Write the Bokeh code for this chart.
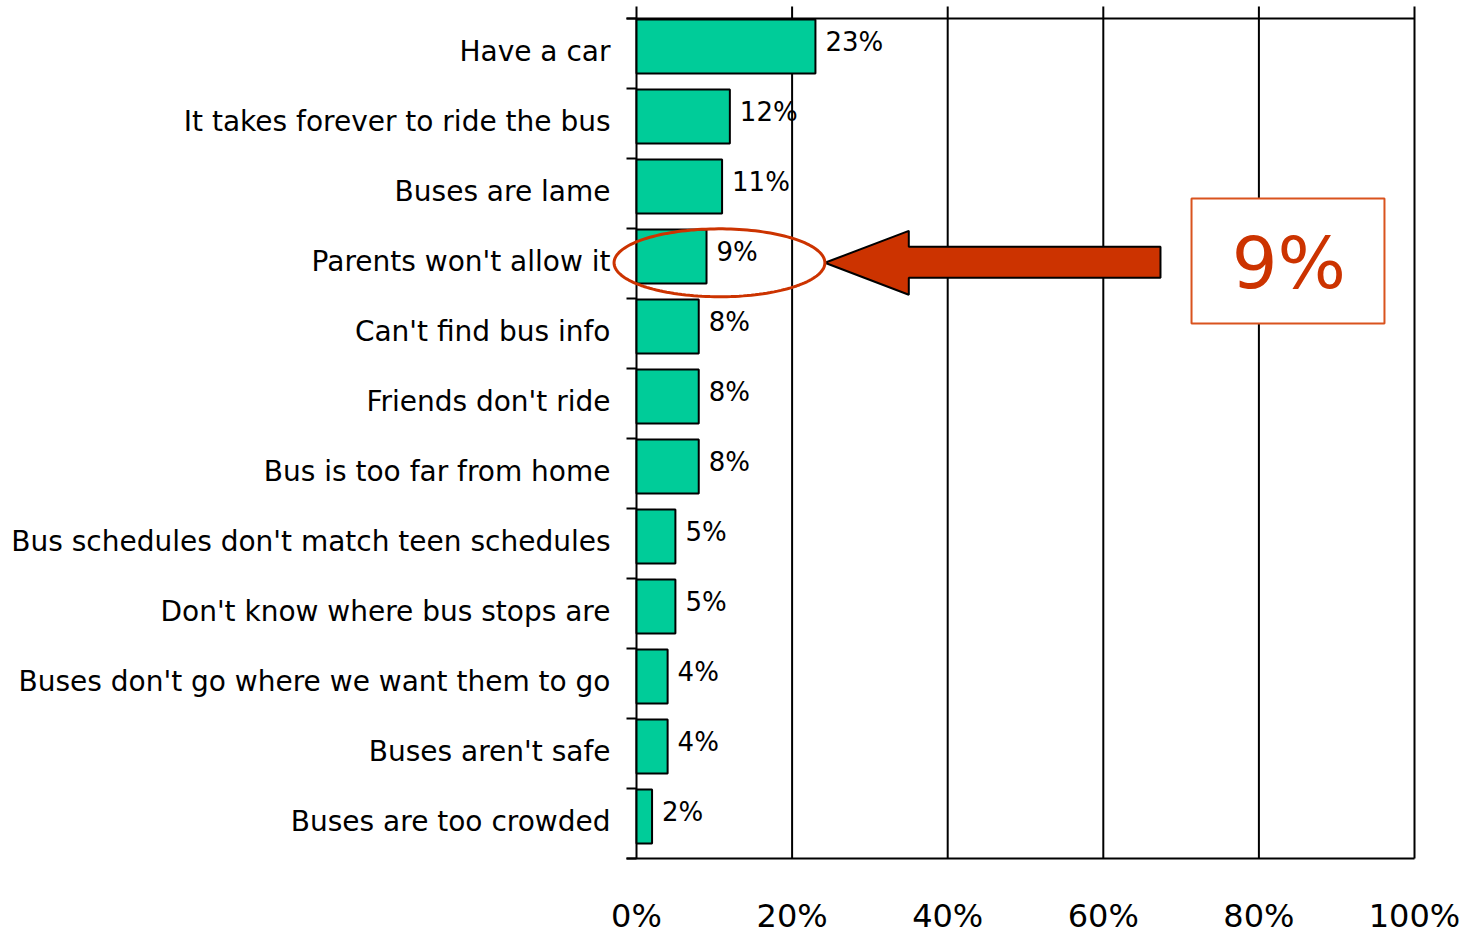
import numpy as np
from bokeh.plotting import figure
from bokeh.models import Range1d, FixedTicker, PolyAnnotation, ColumnDataSource
from bokeh.core.properties import value
from bokeh.embed import file_html
from bokeh.resources import INLINE

categories = [
    "Have a car",
    "It takes forever to ride the bus",
    "Buses are lame",
    "Parents won't allow it",
    "Can't find bus info",
    "Friends don't ride",
    "Bus is too far from home",
    "Bus schedules don't match teen schedules",
    "Don't know where bus stops are",
    "Buses don't go where we want them to go",
    "Buses aren't safe",
    "Buses are too crowded",
]
percents = [23, 12, 11, 9, 8, 8, 8, 5, 5, 4, 4, 2]
value_labels = [f"{v}%" for v in percents]
x_ticks = [0, 20, 40, 60, 80, 100]
x_tick_labels = ["0%", "20%", "40%", "60%", "80%", "100%"]
highlight_index = 3
highlight_text = "9%"

FONT = "DejaVu Sans"
BAR = "#00CC99"
RED = "#CC3300"

n = len(categories)
pos = np.arange(n)
PX = 7.78   # pixels per percent (layout only)
PY = 70.0   # pixels per category band (layout only)
W, H = 1470, 933
LEFT = 610  # frame left edge in px
TOP0 = 18   # px position of first band top

x_start = -(636 - LEFT) / PX
x_end = x_start + (W - LEFT) / PX
y_end = -TOP0 / PY
y_start = (H - TOP0) / PY

p = figure(width=W, height=H, output_backend="svg", toolbar_location=None,
           x_range=Range1d(x_start, x_end),
           y_range=Range1d(start=y_start, end=y_end),
           min_border_left=LEFT, min_border_right=0, min_border_top=0,
           min_border_bottom=0)
p.outline_line_color = None
p.background_fill_color = "white"
p.border_fill_color = "white"
p.xgrid.grid_line_color = None
p.ygrid.grid_line_color = None
p.xaxis.visible = False

# vertical grid lines (incl. 0% and 100%), extending slightly above the top line
top_ext = -12 / PY
p.segment(x0=x_ticks, x1=x_ticks, y0=[top_ext] * len(x_ticks), y1=[n] * len(x_ticks),
          line_color="black", line_width=2)

# top and bottom frame lines + category tick marks
tick_len = 10 / PX
p.segment(x0=[-tick_len, -tick_len], x1=[100, 100], y0=[0, n], y1=[0, n],
          line_color="black", line_width=2)
p.segment(x0=[-tick_len] * (n + 1), x1=[0] * (n + 1), y0=list(range(n + 1)),
          y1=list(range(n + 1)), line_color="black", line_width=2)

src = ColumnDataSource(dict(y=pos + 0.40, v=percents, ly=pos + 0.34,
                            lab=value_labels))
p.hbar(y="y", right="v", left=0, height=0.77, source=src,
       fill_color=BAR, line_color="black", line_width=2)
p.text(x="v", y="ly", text="lab", source=src, x_offset=10,
       text_baseline="middle", text_align="left",
       text_font=value(FONT), text_font_size="26px", text_color="black")

# x tick labels below the chart
p.text(x=x_ticks, y=[n + 57 / PY] * len(x_ticks), text=x_tick_labels,
       text_align="center", text_baseline="middle", text_font=value(FONT),
       text_font_size="32px", text_color="black")

# y axis (labels only)
ya = p.yaxis[0]
centers = [float(i) + 0.46875 for i in range(n)]
ya.ticker = FixedTicker(ticks=centers)
ya.major_label_overrides = {c: l for c, l in zip(centers, categories)}
ya.major_tick_out = 0
ya.major_tick_in = 0
ya.minor_tick_out = 0
ya.minor_tick_in = 0
ya.axis_line_color = None
ya.major_label_standoff = 0
ya.major_label_text_font = FONT
ya.major_label_text_font_size = "28px"
ya.major_label_text_color = "black"

# highlight ellipse around the "Parents won't allow it" bar
hv = percents[highlight_index]
cx, cy = hv * 1.185, highlight_index + 0.49
rx, ry = 13.55, 0.485
t = np.linspace(0, 2 * np.pi, 160)
p.add_layout(PolyAnnotation(xs=list(cx + rx * np.cos(t)), ys=list(cy + ry * np.sin(t)),
                            fill_alpha=0, line_color=RED, line_alpha=1.0,
                            line_width=3))

# arrow pointing to the ellipse
tip = cx + rx
ax = [tip, 35.0, 35.0, 67.35, 67.35, 35.0, 35.0]
ay = [cy, cy - 0.457, cy - 0.229, cy - 0.229, cy + 0.214, cy + 0.214, cy + 0.457]
p.patch(ax, ay, fill_color=RED, line_color="black", line_width=2)

# callout box
p.quad(left=[71.34], right=[96.14], top=[highlight_index - 0.43],
       bottom=[highlight_index + 1.357], fill_color="white",
       line_color="#D9531E", line_width=2)
p.text(x=[83.85], y=[cy], text=[highlight_text], text_align="center",
       text_baseline="middle", text_font=value(FONT), text_font_size="72px",
       text_color=RED)

open("out.html", "w").write(file_html(p, INLINE))
